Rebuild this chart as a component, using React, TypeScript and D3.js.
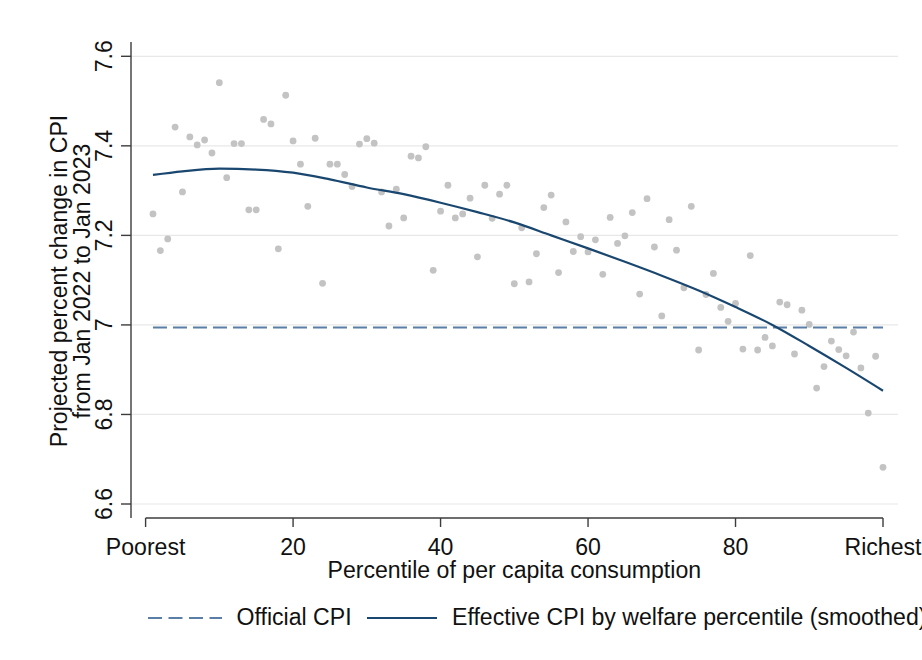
import React from "react";
import * as d3 from "d3";

const percentiles: number[] = Array.from({ length: 100 }, (_, i) => i + 1);
const effectiveCPI: number[] = [
  7.248, 7.166, 7.192, 7.442, 7.297, 7.420, 7.402, 7.413, 7.384, 7.541,
  7.329, 7.405, 7.405, 7.257, 7.257, 7.459, 7.449, 7.170, 7.513, 7.411,
  7.359, 7.265, 7.417, 7.093, 7.359, 7.359, 7.336, 7.309, 7.404, 7.416,
  7.406, 7.297, 7.221, 7.303, 7.239, 7.377, 7.373, 7.398, 7.122, 7.254,
  7.312, 7.239, 7.248, 7.283, 7.152, 7.312, 7.238, 7.292, 7.312, 7.092,
  7.217, 7.096, 7.159, 7.262, 7.290, 7.117, 7.230, 7.164, 7.197, 7.163,
  7.190, 7.113, 7.240, 7.182, 7.199, 7.251, 7.069, 7.282, 7.174, 7.020,
  7.235, 7.167, 7.083, 7.265, 6.944, 7.068, 7.115, 7.039, 7.008, 7.048,
  6.946, 7.155, 6.944, 6.972, 6.953, 7.051, 7.045, 6.935, 7.033, 7.001,
  6.859, 6.907, 6.964, 6.945, 6.931, 6.984, 6.904, 6.803, 6.930, 6.682,
];
const smoothP: number[] = [1, 5, 10, 15, 20, 25, 30, 35, 40, 45, 50, 55, 60, 65, 70, 75, 80, 85, 90, 95, 100];
const smoothV: number[] = [
  7.335, 7.343, 7.349, 7.347, 7.340, 7.325, 7.307, 7.292, 7.273, 7.252,
  7.229, 7.200, 7.171, 7.141, 7.110, 7.077, 7.040, 7.000, 6.953, 6.904, 6.853,
];
const officialCPI = 6.994;
const yTicks: number[] = [6.6, 6.8, 7.0, 7.2, 7.4, 7.6];
const yTickLabels: string[] = ["6.6", "6.8", "7", "7.2", "7.4", "7.6"];
const xTicks: number[] = [0, 20, 40, 60, 80, 100];
const xTickLabels: string[] = ["Poorest", "20", "40", "60", "80", "Richest"];

const W = 922;
const H = 660;
const FONT = "'Liberation Sans', Arial, Helvetica, sans-serif";
const FS = 23.1;

export default function App() {
  const x = d3.scaleLinear().domain([0, 100]).range([145.6, 883]);
  const y = d3.scaleLinear().domain([6.6, 7.6]).range([504, 56.3]);
  const plotLeft = 131;
  const plotRight = 898;
  const plotTop = 42;
  const plotBottom = 518;

  const line = d3
    .line<number>()
    .x((_, i) => x(smoothP[i]))
    .y((d) => y(d))
    .curve(d3.curveMonotoneX);

  const navy = "#1a476f";
  const dashBlue = "#5b7ea6";
  const axisColor = "#3c3c3c";

  return (
    <svg
      width={W}
      height={H}
      style={{ position: "absolute", left: 0, top: 0, background: "#fff" }}
      fontFamily={FONT}
    >
      <rect x={0} y={0} width={W} height={H} fill="#fff" />
      {yTicks.map((t) => (
        <line key={"g" + t} x1={plotLeft} x2={plotRight} y1={y(t)} y2={y(t)} stroke="#e8e8e8" strokeWidth={1.2} />
      ))}
      <line x1={plotLeft} x2={plotLeft} y1={plotTop} y2={plotBottom} stroke={axisColor} strokeWidth={1.4} />
      {yTicks.map((t, i) => (
        <g key={"yt" + t}>
          <line x1={plotLeft - 10} x2={plotLeft} y1={y(t)} y2={y(t)} stroke={axisColor} strokeWidth={1.4} />
          <text
            transform={`translate(111.7,${y(t)}) rotate(-90)`}
            textAnchor="middle"
            fontSize={FS}
            fill="#111"
          >
            {yTickLabels[i]}
          </text>
        </g>
      ))}
      <line x1={x(0)} x2={x(100)} y1={plotBottom} y2={plotBottom} stroke={axisColor} strokeWidth={1.4} />
      {xTicks.map((t, i) => (
        <g key={"xt" + t}>
          <line x1={x(t)} x2={x(t)} y1={plotBottom} y2={plotBottom + 9} stroke={axisColor} strokeWidth={1.4} />
          <text x={x(t)} y={555} textAnchor="middle" fontSize={FS} fill="#111">
            {xTickLabels[i]}
          </text>
        </g>
      ))}
      <text x={(x(0) + x(100)) / 2} y={577.5} textAnchor="middle" fontSize={FS} fill="#111">
        Percentile of per capita consumption
      </text>
      <text transform={`translate(66.7,281) rotate(-90)`} textAnchor="middle" fontSize={FS} fill="#111">
        Projected percent change in CPI
      </text>
      <text transform={`translate(90,281) rotate(-90)`} textAnchor="middle" fontSize={FS} fill="#111">
        from Jan 2022 to Jan 2023
      </text>
      {effectiveCPI.map((v, i) => (
        <circle key={"p" + i} cx={x(percentiles[i])} cy={y(v)} r={3.4} fill="#c3c3c3" />
      ))}
      <line
        x1={x(1)}
        x2={x(100)}
        y1={y(officialCPI)}
        y2={y(officialCPI)}
        stroke={dashBlue}
        strokeWidth={2}
        strokeDasharray="14,6"
      />
      <path d={line(smoothV) || ""} fill="none" stroke={navy} strokeWidth={2.2} />
      <line x1={148} x2={222} y1={618} y2={618} stroke={dashBlue} strokeWidth={2} strokeDasharray="14,6.5" />
      <text x={236.5} y={624.5} fontSize={FS} fill="#111">
        Official CPI
      </text>
      <line x1={367} x2={437} y1={618} y2={618} stroke={navy} strokeWidth={2.2} />
      <text x={452} y={624.5} fontSize={FS} fill="#111">
        Effective CPI by welfare percentile (smoothed)
      </text>
    </svg>
  );
}
